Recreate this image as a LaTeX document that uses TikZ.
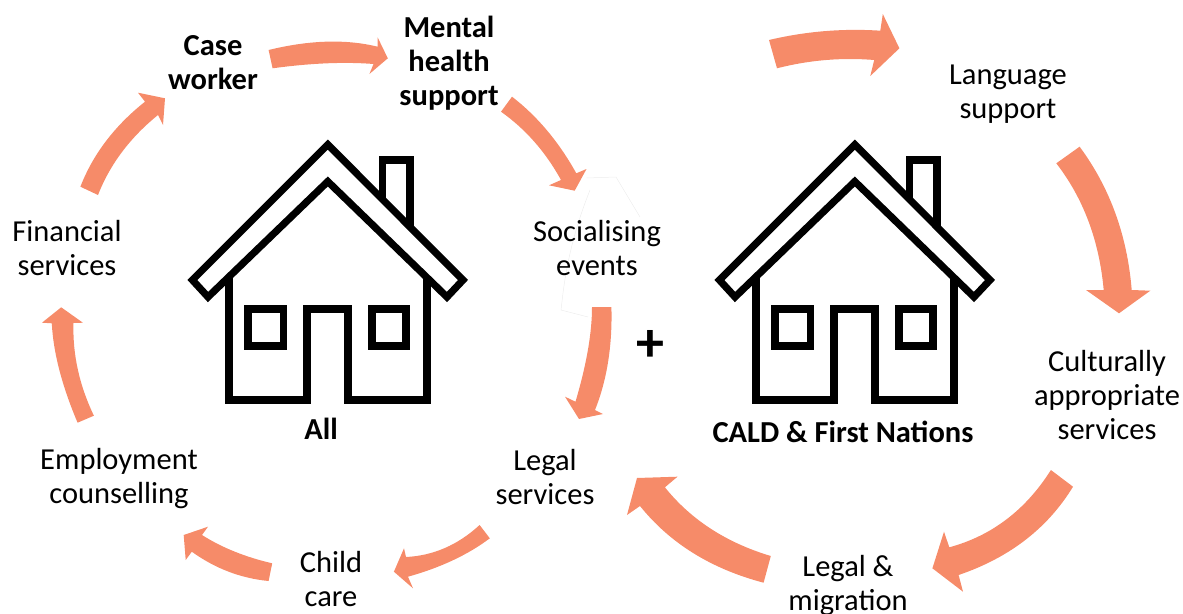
\documentclass[tikz,border=0pt]{standalone}
\usepackage{fontspec}
\setmainfont{Carlito}
\usetikzlibrary{calc}
\definecolor{salmon}{HTML}{F68B69}
\tikzset{
  blockarrow/.style={fill=salmon,draw=none},
  ghost/.style={draw=black!7,line width=0.5pt,line join=round},
  label/.style={align=center,font=\fontsize{30.5}{34}\selectfont,inner sep=0pt},
  boldlabel/.style={label,font=\fontsize{30.5}{34}\selectfont\bfseries},
  housepart/.style={draw=black,line width=7.2pt,miter limit=10,line cap=butt,line join=miter},
  pics/house/.style={code={
    \draw[housepart] (192.4,280) -- (327.8,144.6) -- (463,280) -- (447,297) -- (327.8,181.5) -- (208,297) -- cycle;
    \draw[housepart] (382.5,199) -- (382.5,160) -- (410,160) -- (410,227);
    \draw[housepart] (229,276) -- (229,400) -- (307,400) -- (307,309) -- (348,309) -- (348,400) -- (427,400) -- (427,276);
    \draw[housepart] (248,309) rectangle (283.5,346);
    \draw[housepart] (372,309) rectangle (406,346);
  }}
}
% curved block arrow: outer edge 1-(2)-3, head 4 5 6, inner edge 7-(8)-9
\newcommand{\blockarr}[9]{%
  \fill[blockarrow] (#1) .. controls ($(#1)!2/3!(#2)$) and ($(#3)!2/3!(#2)$) .. (#3) -- (#4) -- (#5) -- (#6) -- (#7)
    .. controls ($(#7)!2/3!(#8)$) and ($(#9)!2/3!(#8)$) .. (#9) -- cycle;}
\begin{document}
\begin{tikzpicture}[x=1pt,y=-1pt]
\useasboundingbox (0,0) rectangle (1183,613);
% houses
\pic (houseA) at (0,0) {house};
\pic (houseB) at (527,0) {house};
% ghost outline beside Socialising events
\draw[ghost] (586.5,178) -- (616,177) -- (640,217);
\draw[ghost] (590,190) .. controls (572,235) and (566,270) .. (563,293) -- (561,310) -- (588,317);
% arrows
\blockarr{80.4,186.7}{99.3,138}{145,101.7}{138,92.7}{165,98.3}{163,125}{158,115}{116,149}{98,195}
\blockarr{268.6,50}{330,35}{377.6,46.7}{377.6,37.3}{387.8,58.3}{369.4,74}{373.5,64}{330,60.5}{272.6,68.3}
\blockarr{512,96.7}{550,126}{576.3,173.3}{586.5,169}{574.7,190.7}{549,185.3}{561,180}{538,138}{501,111.7}
\blockarr{611.4,307}{613,365}{595,410}{603,414}{579,419}{565,396.7}{575.5,401.7}{592,346}{592,307}
\blockarr{479.6,525}{447,555}{406,557}{404,548.3}{393.9,571.7}{413,588.3}{408,576.7}{457,563}{489.8,538.3}
\blockarr{272.2,563.3}{232,554}{202,535}{208,526.7}{183.7,535}{185.7,560}{191.8,551.7}{227,577}{268.6,581}
\blockarr{77.6,422.7}{54,367}{51.8,323.3}{42,322.7}{61.2,307.3}{82.9,322.7}{73.5,323}{72,370}{93.9,415.7}
\blockarr{769,40}{824,27}{880.3,30.7}{882.8,14}{899.4,48.3}{870.3,76}{874.2,60}{825,56}{777,68.3}
\blockarr{1079.6,146.7}{1125,208}{1131.7,290}{1150.3,290.7}{1119,313.3}{1086,290}{1103.7,290}{1097,216}{1056.3,163.3}
\blockarr{1073,486.7}{1035,549}{958.6,575}{963,591.7}{932.4,568.3}{944,531.7}{949.3,547.3}{1013,530}{1050.9,470}
\blockarr{770.8,556}{704,536}{664.9,487.3}{677.5,476.7}{637,478}{627,515}{640,506}{685,562}{763.6,582.7}
% labels
\node[boldlabel] (casew) at (213,63) {Case\\worker};
\node[boldlabel] (mental) at (449,63) {Mental\\health\\support};
\node[label] (fin) at (67,248) {Financial\\services};
\node[label] (soc) at (597,248) {Socialising\\events};
\node[label] (lang) at (1008,94) {Language\\support};
\node[label] (cult) at (1107,395) {Culturally\\appropriate\\services};
\node[label] (legmig) at (848,586) {Legal \&\\migration};
\node[label] (legal) at (545,477) {Legal\\services};
\node[label] (child) at (331,579) {Child\\care};
\node[label] (emp) at (119,479) {Employment\\counselling};
\node[boldlabel] (all) at (321,429) {All};
\node[boldlabel] (cald) at (843,432) {CALD \& First Nations};
\node[inner sep=0pt,font=\fontsize{56}{56}\selectfont\bfseries] (plus) at (650,346) {+};
\end{tikzpicture}
\end{document}
